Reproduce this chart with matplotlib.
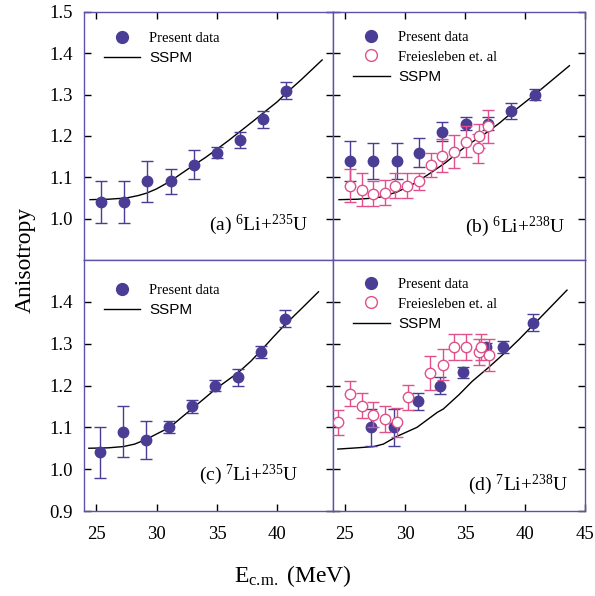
import numpy as np
import matplotlib
matplotlib.use("Agg")
from matplotlib import pyplot as plt
from matplotlib.lines import Line2D

plt.rcParams['font.family'] = 'Liberation Serif'
plt.rcParams['mathtext.fontset'] = 'custom'
plt.rcParams['mathtext.rm'] = 'Liberation Serif'
plt.rcParams['mathtext.it'] = 'Liberation Serif:italic'

# (a) 6Li+235U
a_E = [25.4, 27.3, 29.2, 31.2, 33.1, 35.0, 36.9, 38.8, 40.7]
a_A = [1.04, 1.04, 1.09, 1.09, 1.13, 1.16, 1.19, 1.24, 1.31]
a_err = [0.05, 0.05, 0.05, 0.03, 0.035, 0.014, 0.02, 0.02, 0.02]
a_sspm_E = [24.5, 26, 27.5, 28.5, 29.2, 30, 31.1, 32, 33, 34, 34.9, 36, 37, 38, 38.8, 40, 40.7, 42, 43.7]
a_sspm_A = [1.046, 1.047, 1.050, 1.056, 1.062, 1.072, 1.09, 1.108, 1.128, 1.147, 1.166, 1.19,
            1.213, 1.236, 1.255, 1.283, 1.303, 1.337, 1.384]

# (b) 6Li+238U
b_E = [25.4, 27.35, 29.3, 31.2, 33.05, 35.05, 36.9, 38.8, 40.8]
b_A = [1.14, 1.14, 1.14, 1.16, 1.21, 1.23, 1.23, 1.26, 1.30]
b_err = [0.048, 0.044, 0.044, 0.034, 0.023, 0.015, 0.015, 0.02, 0.013]
b_fr_E = [25.4, 26.4, 27.3, 28.3, 29.2, 30.2, 31.2, 32.2, 33.1, 34.05, 35.1, 36.05, 36.2, 36.95]
b_fr_A = [1.08, 1.07, 1.06, 1.063, 1.08, 1.08, 1.09, 1.13, 1.152, 1.162, 1.186, 1.17, 1.20, 1.224]
b_fr_err = [0.04, 0.04, 0.03, 0.03, 0.03, 0.03, 0.02, 0.03, 0.04, 0.04, 0.038, 0.035, 0.03, 0.04]
b_sspm_E = [24.5, 26, 27, 27.9, 29.3, 30.7, 32, 33.4, 35.1, 36, 37, 37.9, 38.8, 40.8, 43.7]
b_sspm_A = [1.046, 1.047, 1.049, 1.052, 1.064, 1.084, 1.108, 1.136, 1.176, 1.193, 1.212,
            1.232, 1.254, 1.30, 1.37]

# (c) 7Li+235U
c_E = [25.3, 27.2, 29.1, 31.0, 32.9, 34.8, 36.75, 38.65, 40.6]
c_A = [1.04, 1.09, 1.07, 1.10, 1.15, 1.20, 1.22, 1.28, 1.36]
c_err = [0.06, 0.06, 0.045, 0.014, 0.015, 0.013, 0.02, 0.014, 0.02]
c_sspm_E = [24.4, 26, 27.25, 28.2, 29.2, 30, 31.1, 32, 33.0, 34, 34.9, 36, 36.8, 37.8, 38.66,
            39.6, 40.58, 42, 43.4]
c_sspm_A = [1.05, 1.051, 1.054, 1.06, 1.072, 1.084, 1.10, 1.122, 1.146, 1.17, 1.192, 1.215,
            1.232, 1.258, 1.284, 1.314, 1.344, 1.384, 1.424]

# (d) 7Li+238U
d_E = [27.15, 29.1, 31.1, 32.95, 34.85, 36.75, 38.2, 40.65]
d_A = [1.10, 1.10, 1.162, 1.20, 1.232, 1.292, 1.292, 1.35]
d_err = [0.045, 0.045, 0.02, 0.02, 0.013, 0.01, 0.015, 0.02]
d_fr_E = [24.45, 25.45, 26.45, 27.35, 28.3, 29.3, 30.25, 32.1, 33.15, 34.1, 35.1, 36.15, 36.3, 37.0]
d_fr_A = [1.112, 1.18, 1.152, 1.13, 1.12, 1.112, 1.172, 1.23, 1.25, 1.292, 1.292, 1.28, 1.292, 1.272]
d_fr_err = [0.03, 0.03, 0.03, 0.03, 0.03, 0.035, 0.03, 0.04, 0.037, 0.03, 0.03, 0.03, 0.03, 0.038]
d_sspm_E = [24.4, 26, 27.4, 28.2, 29.3, 31, 32.7, 33.2, 34.5, 35.6, 37, 38.7, 39.5, 41.2, 43.5]
d_sspm_A = [1.048, 1.051, 1.054, 1.06, 1.078, 1.10, 1.136, 1.144, 1.178, 1.21, 1.244, 1.288,
            1.31, 1.36, 1.428]

labels = ["(a) $^{6}$Li+$^{235}$U", "(b) $^{6}$Li+$^{238}$U",
          "(c) $^{7}$Li+$^{235}$U", "(d) $^{7}$Li+$^{238}$U"]

blue = '#4a3d96'
frame = '#5c52aa'
pink = '#e0508a'

fig = plt.figure(figsize=(5.95, 5.96), dpi=100)
W = 595.0
H = 596.0
# axes boxes in pixels: left, top, right, bottom
boxes = [(84, 12, 333, 260), (333, 12, 585, 260), (84, 260, 333, 511), (333, 260, 585, 511)]
axs = []
for (l, t, r, b) in boxes:
    axs.append(fig.add_axes([l/W, 1-b/H, (r-l)/W, (b-t)/H]))

panels = [
    (a_E, a_A, a_err, None, None, None, a_sspm_E, a_sspm_A),
    (b_E, b_A, b_err, b_fr_E, b_fr_A, b_fr_err, b_sspm_E, b_sspm_A),
    (c_E, c_A, c_err, None, None, None, c_sspm_E, c_sspm_A),
    (d_E, d_A, d_err, d_fr_E, d_fr_A, d_fr_err, d_sspm_E, d_sspm_A),
]
label_pos = [(0.90, 0.121), (0.92, 0.113), (0.86, 0.124), (0.933, 0.084)]
legend_drop = [20, 19, 24, 18]   # px from axes top

for i, ax in enumerate(axs):
    E, A, err, fE, fA, ferr, sE, sA = panels[i]
    ax.plot(sE, sA, color='black', lw=1.0, zorder=2)
    ax.errorbar(E, A, yerr=err, fmt='o', ms=7.5, color=blue, mec=blue, ecolor=blue,
                elinewidth=1, capsize=4, capthick=1, zorder=3)
    if fE is not None:
        ax.errorbar(fE, fA, yerr=ferr, fmt='o', ms=7.5, mfc='white', mec=pink, mew=1.0,
                    ecolor=pink, elinewidth=1, capsize=4, capthick=1, zorder=4)

    left = i % 2 == 0
    top = i < 2
    if left:
        ax.set_xlim(24, 44.6)
        ax.set_xticks([25, 30, 35, 40])
    else:
        ax.set_xlim(24, 45)
        ax.set_xticks([25, 30, 35, 40, 45])
    ax.set_ylim(0.9, 1.5)
    if top:
        ax.set_yticks([1.0, 1.1, 1.2, 1.3, 1.4, 1.5])
    else:
        ax.set_yticks([0.9, 1.0, 1.1, 1.2, 1.3, 1.4])
    ax.tick_params(direction='in', length=5, width=1, labelsize=13.5, pad=8,
                   top=top, bottom=not top, right=True, left=True,
                   labelbottom=not top, labeltop=False, labelleft=left, labelright=False)
    ax.tick_params(axis='x', pad=11)
    for s in ax.spines.values():
        s.set_color(frame)
        s.set_linewidth(1.0)

    # legend
    handles = [Line2D([], [], ls='none', marker='o', ms=8.5, color=blue)]
    names = ['Present data']
    if fE is not None:
        handles.append(Line2D([], [], ls='none', marker='o', ms=8.5, mfc='white', mec=pink, mew=1.0))
        names.append('Freiesleben et. al')
    handles.append(Line2D([], [], color='black', lw=1.0))
    names.append('SSPM')
    ax_h = boxes[i][3] - boxes[i][1]
    leg = ax.legend(handles, names, loc='upper left', frameon=False, fontsize=10.5,
                    handlelength=2.5, handletextpad=0.6, labelspacing=0.42,
                    borderpad=0, borderaxespad=0,
                    bbox_to_anchor=(20/249, 1 - legend_drop[i]/ax_h))
    leg.get_texts()[-1].set_fontfamily('Liberation Sans')
    leg.get_texts()[-1].set_fontsize(11)

    ax.text(label_pos[i][0], label_pos[i][1], labels[i], transform=ax.transAxes,
            ha='right', va='baseline', fontsize=14)

fig.text(25/W, 1-260/H, 'Anisotropy', rotation=90, ha='center', va='center', fontsize=17)
fig.text(293/W, 1-576/H, 'E$_{\\mathrm{c.\\!m.}}$ (MeV)', ha='center', va='center', fontsize=17)

fig.savefig('out.png', dpi=100)
